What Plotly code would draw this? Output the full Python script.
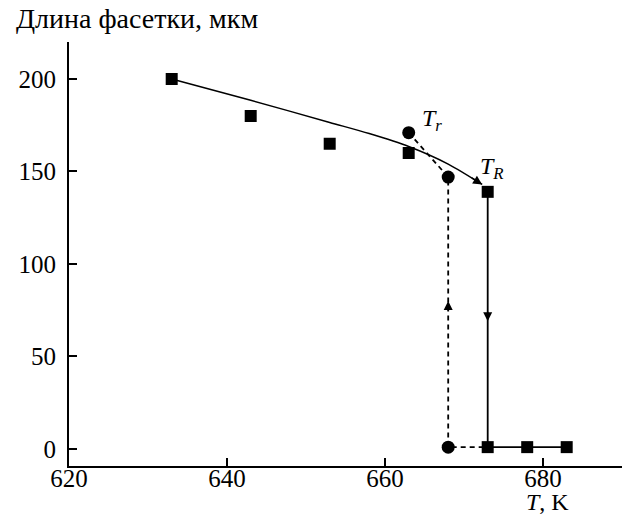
import plotly.graph_objects as go

# Data
sq_T = [633, 643, 653, 663, 673, 673, 678, 683]
sq_L = [200, 180, 165, 160, 139, 1, 1, 1]
circ_T = [663, 668, 668]
circ_L = [171, 147, 1]
curve_T = [633, 643, 653, 658, 663, 668, 672.3]
curve_L = [200, 188.5, 176.5, 170.5, 163.5, 154, 143]
heat_T = [673, 673, 683]
heat_L = [139, 1, 1]
cool_T = [663, 668, 668, 673]
cool_L = [171, 147, 1, 1]
x_ticks = [620, 640, 660, 680]
y_ticks = [0, 50, 100, 150, 200]

FONT = "Liberation Serif, Times New Roman, serif"
FS = 25

fig = go.Figure()
fig.add_trace(go.Scatter(x=curve_T, y=curve_L, mode="lines", line=dict(color="black", width=1.5, shape="spline", smoothing=0.8), hoverinfo="skip"))
fig.add_trace(go.Scatter(x=cool_T, y=cool_L, mode="lines", line=dict(color="black", width=1.8, dash="5px,4px"), hoverinfo="skip"))
fig.add_trace(go.Scatter(x=heat_T, y=heat_L, mode="lines", line=dict(color="black", width=1.8), hoverinfo="skip"))
fig.add_trace(go.Scatter(x=sq_T, y=sq_L, mode="markers", marker=dict(symbol="square", size=12, color="black")))
fig.add_trace(go.Scatter(x=circ_T, y=circ_L, mode="markers", marker=dict(symbol="circle", size=13, color="black")))

arrows = [
    # (tip_x, tip_y, tail_x, tail_y)
    (672.3, 143, 670.8, 147),
    (668, 80, 668, 74),
    (673, 69, 673, 75),
]
for tx, ty, ax, ay in arrows:
    fig.add_annotation(x=tx, y=ty, ax=ax, ay=ay, xref="x", yref="y", axref="x", ayref="y",
                       showarrow=True, arrowhead=2, arrowsize=1.2, arrowwidth=1.5,
                       arrowcolor="black", text="", standoff=0)

fig.add_annotation(x=666, y=178, xref="x", yref="y", text="<i>T</i><sub><i>r</i></sub>",
                   showarrow=False, font=dict(family=FONT, size=24, color="black"))
fig.add_annotation(x=673.6, y=152, xref="x", yref="y", text="<i>T</i><sub><i>R</i></sub>",
                   showarrow=False, font=dict(family=FONT, size=24, color="black"))
fig.add_annotation(x=680.6, y=-0.086, xref="x", yref="paper", text="<i>T</i>, K",
                   showarrow=False, yanchor="middle", font=dict(family=FONT, size=24, color="black"))
fig.add_annotation(x=-0.0995, y=1.055, xref="paper", yref="paper", text="Длина фасетки, мкм",
                   showarrow=False, xanchor="left", yanchor="middle", font=dict(family=FONT, size=28, color="black"))

fig.update_layout(
    width=627, height=521,
    margin=dict(l=69, r=5, t=42, b=55),
    paper_bgcolor="white", plot_bgcolor="white",
    showlegend=False,
    font=dict(family=FONT, size=FS, color="black"),
)
fig.update_xaxes(range=[620, 690], tickvals=x_ticks, ticks="inside", ticklen=8, tickwidth=2, tickcolor="black",
                 showline=True, linecolor="black", linewidth=2, showgrid=False, zeroline=False,
                 ticklabelstandoff=-11,
                 tickfont=dict(family=FONT, size=FS, color="black"))
fig.update_yaxes(range=[-9.2, 220], tickvals=y_ticks, ticks="inside", ticklen=8, tickwidth=2, tickcolor="black",
                 showline=True, linecolor="black", linewidth=2, showgrid=False, zeroline=False,
                 ticklabelstandoff=6,
                 tickfont=dict(family=FONT, size=FS, color="black"))

fig.write_html("out.html", config={"displayModeBar": False},
               post_script="document.body.style.margin='0';document.body.style.overflow='hidden';")
